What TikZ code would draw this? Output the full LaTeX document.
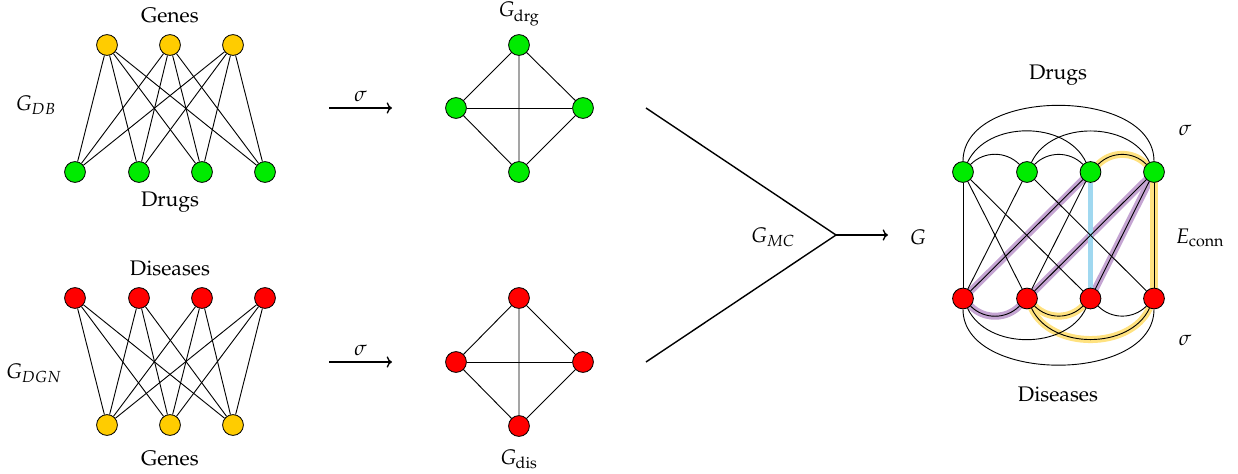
\documentclass[tikz,border=0pt]{standalone}
\usepackage[T1]{fontenc}
\usepackage{mathpazo}
\usetikzlibrary{arrows.meta}
\definecolor{geneclr}{RGB}{255,204,0}
\definecolor{drugclr}{RGB}{0,235,0}
\definecolor{disclr}{RGB}{255,0,0}
\definecolor{hlpurple}{RGB}{196,164,210}
\definecolor{hlyellow}{RGB}{255,226,128}
\definecolor{hlblue}{RGB}{160,216,240}
\pgfdeclarelayer{hl}
\pgfdeclarelayer{edges}
\pgfsetlayers{hl,edges,main}
\begin{document}
\begin{tikzpicture}[x=0.025cm,y=0.025cm,
  font=\fontsize{15}{18}\selectfont,
  vtx/.style={circle,draw=black,line width=0.6pt,minimum size=0.52cm,inner sep=0pt},
  gene/.style={vtx,fill=geneclr},
  drug/.style={vtx,fill=drugclr},
  dis/.style={vtx,fill=disclr},
  edge/.style={line width=0.65pt},
  mapto/.style={->,line width=1pt},
  merge/.style={line width=1pt},
  hlp/.style={line width=5pt,draw=hlpurple,line cap=round},
  hly/.style={line width=5pt,draw=hlyellow,line cap=round},
  hlb/.style={line width=4pt,draw=hlblue},
  lbl/.style={inner sep=1pt}]
\useasboundingbox (0,0) rectangle (1238,-474);

% ---- drug--gene bipartite graph
\node[gene] (ga1) at (107,-45) {};
\node[gene] (ga2) at (170,-45) {};
\node[gene] (ga3) at (233,-45) {};
\node[drug] (da1) at (75,-172) {};
\node[drug] (da2) at (139,-172) {};
\node[drug] (da3) at (202,-172) {};
\node[drug] (da4) at (265,-172) {};
\node[lbl] (tgenes) at (170,-15) {Genes};
\node[lbl] (tdrugs) at (170,-202) {Drugs};
\node[lbl] (tgdb) at (36,-105) {$G_{DB}$};
\begin{pgfonlayer}{edges}
\foreach \g in {1,2,3}
  \foreach \d in {1,2,3,4}
    \draw[edge] (ga\g) -- (da\d);
\end{pgfonlayer}

% ---- disease--gene bipartite graph
\node[dis] (sb1) at (75,-298) {};
\node[dis] (sb2) at (139,-298) {};
\node[dis] (sb3) at (202,-298) {};
\node[dis] (sb4) at (265,-298) {};
\node[gene] (gb1) at (107,-425) {};
\node[gene] (gb2) at (170,-425) {};
\node[gene] (gb3) at (233,-425) {};
\node[lbl] (tdis) at (170,-268) {Diseases};
\node[lbl] (tgenes2) at (170,-458) {Genes};
\node[lbl] (tgdgn) at (34,-373) {$G_{DGN}$};
\begin{pgfonlayer}{edges}
\foreach \s in {1,2,3,4}
  \foreach \g in {1,2,3}
    \draw[edge] (sb\s) -- (gb\g);
\end{pgfonlayer}

% ---- projections
\coordinate (pa1) at (329,-108);
\coordinate (pa2) at (392,-108);
\coordinate (pb1) at (329,-362);
\coordinate (pb2) at (392,-362);
\draw[mapto] (pa1) -- node[above=1pt] {$\sigma$} (pa2);
\draw[mapto] (pb1) -- node[above=1pt] {$\sigma$} (pb2);

% ---- drug similarity graph
\node[drug] (dt) at (519,-45) {};
\node[drug] (dl) at (456,-108) {};
\node[drug] (dr) at (583,-108) {};
\node[drug] (db) at (519,-172) {};
\node[lbl] (tgdrg) at (519,-14) {$G_{\mathrm{drg}}$};
% ---- disease similarity graph
\node[dis] (st) at (519,-298) {};
\node[dis] (sl) at (456,-362) {};
\node[dis] (sr) at (583,-362) {};
\node[dis] (sbm) at (519,-426) {};
\node[lbl] (tgdis) at (519,-459) {$G_{\mathrm{dis}}$};
\begin{pgfonlayer}{edges}
\draw[edge] (dt) -- (dl) -- (db) -- (dr) -- (dt) -- (db);
\draw[edge] (dl) -- (dr);
\draw[edge] (st) -- (sl) -- (sbm) -- (sr) -- (st) -- (sbm);
\draw[edge] (sl) -- (sr);
\end{pgfonlayer}

% ---- merge into multi-layer graph
\coordinate (ma) at (646,-108);
\coordinate (mb) at (646,-362);
\coordinate (mv) at (836,-235);
\coordinate (mout) at (888,-235);
\draw[merge] (ma) -- (mv) -- (mb);
\draw[mapto] (mv) -- (mout);
\node[lbl] (tgmc) at (773,-237) {$G_{MC}$};
\node[lbl] (tg) at (918,-237) {$G$};

% ---- combined graph
\node[drug] (g1) at (963,-172) {};
\node[drug] (g2) at (1027,-172) {};
\node[drug] (g3) at (1090.5,-172) {};
\node[drug] (g4) at (1154,-172) {};
\node[dis] (r1) at (963,-298.5) {};
\node[dis] (r2) at (1027,-298.5) {};
\node[dis] (r3) at (1090.5,-298.5) {};
\node[dis] (r4) at (1154,-298.5) {};
\node[lbl] (tdrugs2) at (1058,-75) {Drugs};
\node[lbl] (tdis2) at (1058,-394) {Diseases};
\node[lbl] (tsig1) at (1185,-130) {$\sigma$};
\node[lbl] (tsig2) at (1185,-340) {$\sigma$};
\node[lbl] (teconn) at (1200,-238) {$E_{\mathrm{conn}}$};

% highlighted paths
\begin{pgfonlayer}{hl}
\draw[hlp] (g3) -- (r1);
\draw[hlp] (r1) to[bend right=45] (r2);
\draw[hlp] (r2) -- (g4);
\draw[hlp] (g4) -- (r3);
\draw[hly] (g3) to[bend left=45] (g4);
\draw[hly] (g4) -- (r4);
\draw[hly] (r2) to[bend right=65] (r4);
\draw[hly] (r2) to[bend right=45] (r3);
\draw[hlb] (g3) -- (r3);
\end{pgfonlayer}

\begin{pgfonlayer}{edges}
% drug--drug arcs
\draw[edge] (g1) to[bend left=45] (g2);
\draw[edge] (g2) to[bend left=45] (g3);
\draw[edge] (g3) to[bend left=45] (g4);
\draw[edge] (g1) to[bend left=65] (g3);
\draw[edge] (g2) to[bend left=65] (g4);
\draw[edge] (g1) to[bend left=90] (g4);
% disease--disease arcs
\draw[edge] (r1) to[bend right=45] (r2);
\draw[edge] (r2) to[bend right=45] (r3);
\draw[edge] (r3) to[bend right=45] (r4);
\draw[edge] (r1) to[bend right=65] (r3);
\draw[edge] (r2) to[bend right=65] (r4);
\draw[edge] (r1) to[bend right=90] (r4);
% drug--disease links
\draw[edge] (g1) -- (r1);
\draw[edge] (g4) -- (r4);
\draw[edge] (g1) -- (r2);
\draw[edge] (g1) -- (r3);
\draw[edge] (g2) -- (r1);
\draw[edge] (g2) -- (r4);
\draw[edge] (g3) -- (r1);
\draw[edge] (g3) -- (r2);
\draw[edge] (g4) -- (r2);
\draw[edge] (g4) -- (r3);
\end{pgfonlayer}
\end{tikzpicture}
\end{document}
